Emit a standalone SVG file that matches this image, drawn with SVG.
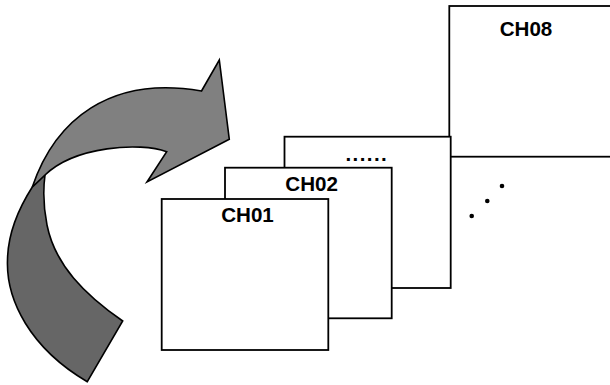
<svg xmlns="http://www.w3.org/2000/svg" width="610" height="385" viewBox="0 0 610 385">
<style>
.box{fill:#fff;stroke:#000;stroke-width:1.8}
.lbl{font-family:"Liberation Sans",Arial,sans-serif;font-weight:bold;font-size:20.6px;fill:#000;text-anchor:middle}
.arr{stroke:#000;stroke-width:1.6;stroke-linejoin:miter}
</style>
<rect width="610" height="385" fill="#fff"/>
<g id="connectors">
<g id="curved-arrow">
<path class="arr" fill="#666666" d="M 32.3,187 Q 8,225 7.5,260 C 6,300 30,348 87.3,381.7 L 122.7,321 C 85,295 55,265 47,225 C 43,205 43,190 45,175 Z"/>
<path class="arr" fill="#808080" d="M 32.3,187 C 55,120 110,75 201.5,91 L 219.3,60 L 229.3,139.3 L 147,182 L 166.7,151.7 C 140,142 75,146 45,175 Z"/>
</g>
</g>
<g id="ch08">
<rect class="box" x="449.3" y="6" width="170" height="150.7"/>
<text class="lbl" x="526" y="35.7">CH08</text>
</g>
<g id="ch-more">
<rect class="box" x="284.5" y="136.7" width="166.2" height="151.3"/>
<text class="lbl" x="345.5" y="161" style="text-anchor:start;letter-spacing:1.4px">......</text>
</g>
<g id="ch02">
<rect class="box" x="225" y="167.7" width="166.7" height="150.6"/>
<text class="lbl" x="311.7" y="191">CH02</text>
</g>
<g id="ch01">
<rect class="box" x="161.7" y="199" width="166.6" height="151"/>
<text class="lbl" x="247.5" y="221.7">CH01</text>
</g>
<g id="ellipsis">
<circle cx="471.7" cy="216" r="2.3" fill="#000"/>
<circle cx="487.3" cy="201" r="2.3" fill="#000"/>
<circle cx="502" cy="186" r="2.3" fill="#000"/>
</g>
</svg>
